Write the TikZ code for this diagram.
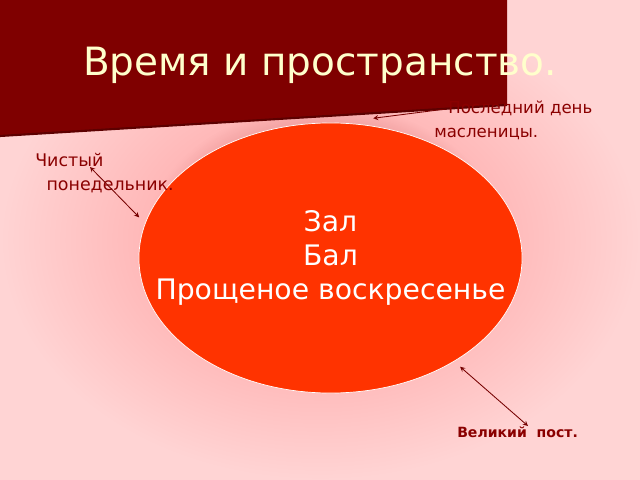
\documentclass[tikz,border=0pt]{standalone}
\usepackage{fontspec}
\setmainfont{DejaVu Sans}
\usepackage{xcolor}
\usetikzlibrary{shapes.geometric,fadings}
\definecolor{banner}{HTML}{7F0000}
\definecolor{bannerdark}{HTML}{5C0000}
\definecolor{titletext}{HTML}{FFFFCC}
\definecolor{labeltext}{HTML}{8A0000}
\definecolor{ovalfill}{HTML}{FF3300}
\definecolor{pinkdeep}{HTML}{FFB4B4}
\definecolor{pinklight}{HTML}{FFD4D4}
\definecolor{glow}{HTML}{EC9A9A}
\pgfdeclareradialshading{bgshade}{\pgfpoint{0bp}{0bp}}{color(0bp)=(pinkdeep); color(12bp)=(pinkdeep); color(25bp)=(pinklight); color(50bp)=(pinklight)}

\begin{document}
\begin{tikzpicture}[x=0.025cm,y=-0.025cm,
  lbl/.style={text=labeltext,font=\fontsize{12.4}{17}\selectfont,align=left,anchor=base west,inner sep=0},
  link/.style={draw=labeltext!85!black,line width=0.6pt,>=stealth}]
\useasboundingbox (0,0) rectangle (640,480);
\shade[shading=bgshade] (0,0) rectangle (640,480);
\fill[glow,path fading=circle with fuzzy edge 20 percent] (145,105) rectangle (505,385);
\fill[banner] (0,0) -- (507,0) -- (507,105) -- (0,136) -- cycle;
\draw[bannerdark,line width=1.5pt] (507,105) -- (0,136);
\node (title) at (320,75) [anchor=base,text=titletext,font=\fontsize{27.7}{33}\selectfont] {Время и пространство.};
\node (oval) at (330.5,258) [ellipse,fill=ovalfill,draw=white,line width=0.5pt,minimum width=9.575cm,minimum height=6.75cm,inner xsep=-40pt,inner ysep=0,outer sep=0.2cm,text=white,font=\fontsize{20.1}{24}\selectfont,align=center] {Зал\\Бал\\Прощеное воскресенье};
\node (last) at (434,137) [lbl,font=\fontsize{11.8}{17}\selectfont] {\hspace{10pt}Последний день\\масленицы.};
\node (clean) at (35,190) [lbl] {Чистый\\\hspace{8pt}понедельник.};
\node (lent) at (457,437) [lbl,font=\bfseries\fontsize{10}{14}\selectfont] {Великий~~пост.};
\coordinate (a1) at (446,109);
\coordinate (a2) at (90,167);
\coordinate (a3) at (528,426);
\draw[link,->] (a1) -- (oval.73);
\draw[link,<->] (a2) -- (oval.168);
\draw[link,<->] (oval.320) -- (a3);
\end{tikzpicture}
\end{document}
